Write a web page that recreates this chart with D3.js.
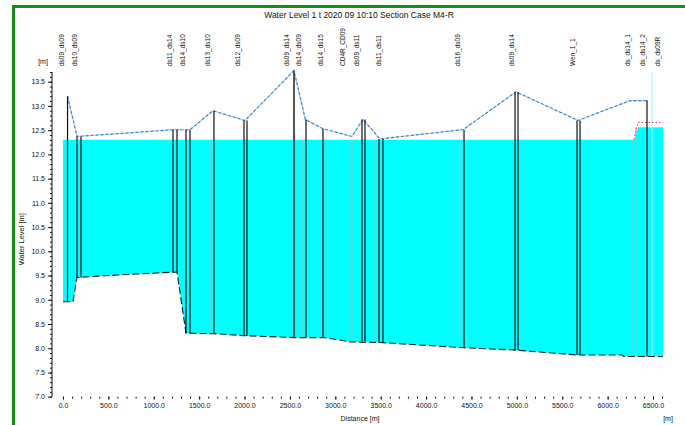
<!DOCTYPE html>
<html>
<head>
<meta charset="utf-8">
<script src="https://cdn.jsdelivr.net/npm/d3@7"></script>
<style>
  html, body { margin: 0; padding: 0; background: #fff; }
  svg { display: block; font-family: "Liberation Sans", Arial, sans-serif; }
</style>
</head>
<body>
<svg id="chart" width="685" height="425"></svg>
<script>
// ---- profile data (station [m], level [m]) ----
const bedProfile = [
  [0, 8.96], [110, 8.96], [154, 9.46], [600, 9.51], [1100, 9.56], [1256, 9.57],
  [1355, 8.31], [1663, 8.30], [1994, 8.26], [2545, 8.22], [2864, 8.22], [3050, 8.17],
  [3162, 8.13], [3481, 8.12], [4418, 8.01], [5000, 7.96], [5663, 7.86], [6165, 7.86],
  [6175, 7.83], [6610, 7.83]
];
const waterProfile = [[0, 12.30], [6295, 12.30], [6335, 12.56], [6610, 12.56]];
const energyProfile = [[6290, 12.31], [6335, 12.66], [6610, 12.66]];
const bankProfile = [
  [50, 13.20], [154, 12.37], [700, 12.44], [1212, 12.51], [1399, 12.51], [1652, 12.90],
  [2005, 12.70], [2545, 13.73], [2670, 12.72], [2864, 12.53], [3184, 12.37], [3305, 12.72],
  [3492, 12.32], [4407, 12.51], [4991, 13.29], [5674, 12.70], [6247, 13.11], [6445, 13.11]
];

// cross sections: station, bed level, top level
const sectionStations = [50, 154, 198, 1212, 1256, 1355, 1399, 1663, 1994, 2027, 2545, 2677, 2864, 3294, 3327, 3481, 3525, 4418, 4980, 5013, 5663, 5696, 6434];
const sectionBeds     = [8.96, 9.46, 9.46, 9.57, 9.57, 8.31, 8.31, 8.30, 8.26, 8.26, 8.22, 8.22, 8.22, 8.14, 8.14, 8.12, 8.12, 8.01, 7.96, 7.96, 7.86, 7.86, 7.83];
const sectionTops     = [13.20, 12.37, 12.37, 12.51, 12.51, 12.51, 12.51, 12.90, 12.70, 12.70, 13.73, 12.72, 12.53, 12.72, 12.72, 12.32, 12.32, 12.51, 13.29, 13.29, 12.70, 12.70, 13.11];

// interpolated sections (drawn faint)
const faintStations = [1620, 2640, 2886, 3162, 3195, 3437, 4374, 6269, 6313];
const faintBeds     = [8.30, 8.22, 8.22, 8.13, 8.13, 8.12, 8.01, 7.83, 7.83];
const faintTops     = [12.30, 12.30, 12.30, 12.30, 12.30, 12.30, 12.30, 12.30, 12.56];
const markerStation = 6490, markerBed = 7.83, markerTop = 13.70;

// section names
const labelNames = [
  "ds09_ds09", "ds10_ds09", "ds11_ds14", "ds14_ds10", "ds13_ds10", "ds12_ds09",
  "ds09_ds14", "ds14_ds09", "ds14_ds15", "CD4R_CD09", "ds09_ds11", "ds11_ds11",
  "ds16_ds09", "ds09_ds14", "Wen_1_1", "ds_ds14_1", "ds_ds14_2", "ds_ds09R"
];
const labelStations = [6, 149, 1206, 1339, 1614, 1955, 2495, 2617, 2859, 3112, 3266, 3498, 4379, 4974, 5646, 6252, 6417, 6572];

const xTickValues = d3.range(0, 6501, 500);
const xMinorValues = d3.range(0, 6601, 100);
const yTickValues = d3.range(7.0, 13.51, 0.5);
const yMinorValues = d3.range(7.0, 13.71, 0.1);

const titleText = "Water Level  1 t 2020 09 10:10 Section Case M4-R";
const yTitle = "Water Level [m]";
const xTitle = "Distance [m]";

// ---- scales ----
const x = d3.scaleLinear().domain([0, 6500]).range([63, 653]);
const y = d3.scaleLinear().domain([7.0, 13.5]).range([396.7, 81.7]);

const svg = d3.select("#chart");
const font = "7px";
const ink = "#111111";

// frame
svg.append("rect")
  .attr("x", 13.5).attr("y", 6.5).attr("width", 720).attr("height", 500)
  .attr("fill", "none").attr("stroke", "#1a8a1a").attr("stroke-width", 3);

// title
svg.append("text")
  .attr("x", 359).attr("y", 18)
  .attr("text-anchor", "middle")
  .attr("font-size", "8.5px")
  .attr("fill", ink)
  .text(titleText);

const line = d3.line().x(d => x(d[0])).y(d => y(d[1]));

// water body between bed and water surface
const waterPoly = waterProfile.concat(bedProfile.slice().reverse());
svg.append("path")
  .attr("d", line(waterPoly) + "Z")
  .attr("fill", "#00ffff");

// faint interpolated sections
svg.append("g").selectAll("line")
  .data(faintStations)
  .join("line")
  .attr("x1", d => x(d)).attr("x2", d => x(d))
  .attr("y1", (d, i) => y(faintBeds[i])).attr("y2", (d, i) => y(faintTops[i]))
  .attr("stroke", "#66d4d4").attr("stroke-width", 1);

svg.append("line")
  .attr("x1", x(markerStation)).attr("x2", x(markerStation))
  .attr("y1", y(markerBed)).attr("y2", y(markerTop))
  .attr("stroke", "#a8f4f4").attr("stroke-width", 1.2);

// energy line
svg.append("path")
  .attr("d", line(energyProfile))
  .attr("fill", "none").attr("stroke", "#e03030")
  .attr("stroke-width", 1).attr("stroke-dasharray", "1.5,2");

// bed
svg.append("path")
  .attr("d", line(bedProfile))
  .attr("fill", "none").attr("stroke", "#222")
  .attr("stroke-width", 1.1).attr("stroke-dasharray", "7,3");

// bank / top line
svg.append("path")
  .attr("d", line(bankProfile))
  .attr("fill", "none").attr("stroke", "#b8dcf2").attr("stroke-width", 1.2);
svg.append("path")
  .attr("d", line(bankProfile))
  .attr("fill", "none").attr("stroke", "#3f7fc4")
  .attr("stroke-width", 1.1).attr("stroke-dasharray", "3,2");

// cross sections
svg.append("g").selectAll("line")
  .data(sectionStations)
  .join("line")
  .attr("x1", d => x(d)).attr("x2", d => x(d))
  .attr("y1", (d, i) => y(sectionBeds[i])).attr("y2", (d, i) => y(sectionTops[i]))
  .attr("stroke", (d, i) => sectionTops[i] > 13.5 ? "#555" : ink)
  .attr("stroke-width", (d, i) => sectionTops[i] > 13.5 ? 2 : 1.2);

// section names
svg.append("g").selectAll("text")
  .data(labelStations)
  .join("text")
  .attr("transform", d => `translate(${x(d)},66) rotate(-90)`)
  .attr("font-size", "6.5px")
  .attr("fill", ink)
  .text((d, i) => labelNames[i]);

// y axis
const yAxisG = svg.append("g").attr("transform", "translate(52,0)");
yAxisG.append("line")
  .attr("x1", 0).attr("x2", 0)
  .attr("y1", y(7.0)).attr("y2", y(13.7))
  .attr("stroke", ink).attr("stroke-width", 1);
yAxisG.append("g")
  .call(d3.axisLeft(y).tickValues(yMinorValues).tickSize(2).tickFormat(""))
  .call(g => g.select(".domain").remove());
yAxisG.append("g")
  .call(d3.axisLeft(y).tickValues(yTickValues).tickSize(4).tickPadding(3).tickFormat(d3.format(".1f")))
  .call(g => g.select(".domain").remove())
  .call(g => g.selectAll("text").attr("font-size", font).attr("font-family", null).attr("fill", ink));
yAxisG.selectAll("line").attr("stroke", ink);

svg.append("text")
  .attr("x", 43).attr("y", 64)
  .attr("text-anchor", "middle").attr("font-size", font).attr("fill", ink)
  .text("[m]");
svg.append("text")
  .attr("transform", `translate(24,${y(10.25)}) rotate(-90)`)
  .attr("text-anchor", "middle").attr("font-size", "7.5px").attr("fill", ink)
  .text(yTitle);

// x axis
const xAxisG = svg.append("g").attr("transform", `translate(0,${y(7.0)})`);
xAxisG.append("g")
  .call(d3.axisBottom(x).tickValues(xMinorValues).tickSize(2).tickFormat(""))
  .call(g => g.select(".domain").remove());
xAxisG.append("g")
  .call(d3.axisBottom(x).tickValues(xTickValues).tickSize(3).tickPadding(3).tickFormat(d3.format(".1f")))
  .call(g => g.select(".domain").remove())
  .call(g => g.selectAll("text").attr("font-size", font).attr("font-family", null).attr("fill", ink));
xAxisG.selectAll("line").attr("stroke", ink);

svg.append("text")
  .attr("x", 360).attr("y", 421)
  .attr("text-anchor", "middle").attr("font-size", font).attr("fill", ink)
  .text(xTitle);
svg.append("text")
  .attr("x", 668).attr("y", 421)
  .attr("text-anchor", "middle").attr("font-size", font).attr("fill", ink)
  .text("[m]");
</script>
</body>
</html>
